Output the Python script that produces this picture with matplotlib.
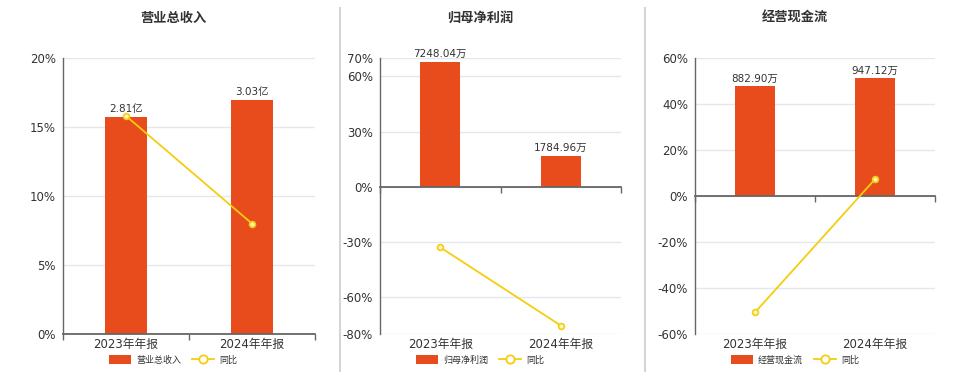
import matplotlib
matplotlib.use("Agg")
import matplotlib.pyplot as plt
from matplotlib.lines import Line2D
from matplotlib.patches import Patch

plt.rcParams['font.family'] = ['DejaVu Sans', 'Noto Sans CJK SC']

# data
periods = ['2023年年报', '2024年年报']
titles = ['营业总收入', '归母净利润', '经营现金流']
bar_values = [[2.81, 3.03], [7248.04, 1784.96], [882.90, 947.12]]
bar_labels = [['2.81亿', '3.03亿'], ['7248.04万', '1784.96万'], ['882.90万', '947.12万']]
yoy = [[15.8, 8.0], [-32.9, -75.4], [-50.6, 7.3]]
pct_ticks = [[0, 5, 10, 15, 20], [-80, -60, -30, 0, 30, 60, 70], [-60, -40, -20, 0, 20, 40, 60]]
pct_lims = [(0, 20), (-80, 70), (-60, 60)]
bar_lims = [(0, 3.57), (-8535, 7468), (-1112, 1112)]

BAR = '#E84C1D'
LINE = '#F5CD0F'
AXC = '#666666'
GRID = '#E3E8F0'
TXT = '#333333'

fig = plt.figure(figsize=(9.6, 3.72), dpi=100)
H = 372.0
W = 960.0
# axes boxes in pixels: left, right
boxes = [(63, 315), (380, 621), (695, 935)]
centers = [173, 480, 795]

for k in range(3):
    l, r = boxes[k]
    ax = fig.add_axes([l / W, 1 - 334 / H, (r - l) / W, (334 - 58) / H])
    ax2 = ax.twinx()
    x = list(range(len(periods)))

    # percent axis: grid, y labels, category labels
    ax.set_xlim(-0.5, 1.5)
    ax.set_ylim(*pct_lims[k])
    ax.set_yticks(pct_ticks[k])
    ax.set_yticklabels([f'{t}%' for t in pct_ticks[k]])
    ax.set_xticks(x)
    ax.set_xticklabels(periods)
    ax.set_xticks([-0.5, 0.5, 1.5], minor=True)
    ax.tick_params(axis='y', length=0, pad=5, labelsize=8.5, labelcolor=TXT)
    ax.tick_params(axis='x', which='both', length=0, pad=3, labelsize=8.5, labelcolor=TXT)
    ax.yaxis.grid(True, color=GRID, lw=1)
    ax.set_axisbelow(True)
    for s in ['top', 'right', 'bottom']:
        ax.spines[s].set_visible(False)
    ax.spines['left'].set_color(AXC)
    ax.spines['left'].set_linewidth(1)

    # hidden value axis for bars
    ax2.set_ylim(*bar_lims[k])
    bars = ax2.bar(x, bar_values[k], width=0.33, color=BAR, zorder=2)
    ax2.bar_label(bars, labels=bar_labels[k], padding=2, fontsize=7.5, color=TXT)
    ax2.set_yticks([])
    for s in ['top', 'right', 'left']:
        ax2.spines[s].set_visible(False)
    ax2.xaxis.set_visible(True)
    ax2.spines['bottom'].set_position(('data', 0))
    ax2.spines['bottom'].set_color(AXC)
    ax2.spines['bottom'].set_linewidth(1.3)
    ax2.spines['bottom'].set_zorder(3)
    ax2.tick_params(axis='x', which='major', length=0, labelbottom=False)
    ax2.tick_params(axis='x', which='minor', length=4, width=1, color=AXC,
                    direction='out', labelbottom=False)

    # yoy line on top of bars, in percent coordinates
    ax2.plot(x, yoy[k], color=LINE, lw=1.3, marker='o', ms=4.2,
             mfc='#FFF4C0', mec=LINE, mew=1.2, transform=ax.transData, zorder=4)
    ax2.set_ylim(*bar_lims[k])
    ax2.set_xlim(-0.5, 1.5)

    fig.text(centers[k] / W, 1 - 18 / H, titles[k], ha='center', va='center',
             fontsize=9.5, fontweight='bold', color=TXT)

    handles = [Patch(facecolor=BAR, edgecolor='none'),
               Line2D([], [], color=LINE, lw=1.3, marker='o', ms=6, mfc='white', mec=LINE, mew=1.3)]
    fig.legend(handles, [titles[k], '同比'], loc='center', ncol=2,
               bbox_to_anchor=(centers[k] / W, 1 - 360 / H), frameon=False,
               fontsize=6.5, handlelength=2.4, handleheight=1.2, handletextpad=0.6,
               columnspacing=1.2, labelcolor=TXT)

for xs in [340, 645]:
    fig.add_artist(Line2D([xs / W, xs / W], [0, 1 - 8 / H], transform=fig.transFigure,
                          color='#D5D5D5', lw=1.5))

fig.savefig('out.png', dpi=100)
